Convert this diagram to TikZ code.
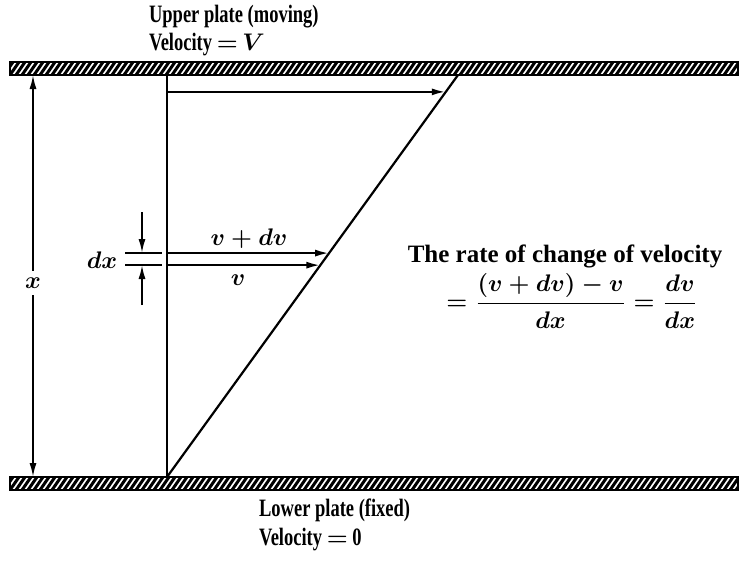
\documentclass[tikz,border=0pt]{standalone}
\usepackage{fontspec}
\usepackage{amsmath}
\setmainfont{Liberation Serif}
\newfontfamily\platefont[FakeStretch=0.74]{Liberation Serif}
\usetikzlibrary{arrows.meta, calc}

\tikzset{
  platelab/.style={inner sep=0pt, anchor=west,
    font=\platefont\fontsize{12.5}{15}\selectfont\bfseries\boldmath},
  mathlab/.style={inner sep=1pt, font=\fontsize{12}{14}\selectfont\bfseries\boldmath},
  ratelab/.style={inner sep=0pt, font=\fontsize{12.5}{15}\selectfont\bfseries\boldmath}
}

\begin{document}
\begin{tikzpicture}[x=0.5pt, y=-0.5pt, line width=1.1pt, >={Latex[length=7pt, width=3.5pt]}]
\useasboundingbox (0,0) rectangle (742,564);

% Plates (hatched bands)
\foreach \ytop/\ybot in {62/75, 477/490} {
  \begin{scope}
    \clip (10,\ytop) rectangle (738,\ybot);
    \foreach \i in {-3,...,125} {
      \draw[line width=1.5pt] (\i*6+4,\ybot) -- ++(9,-13);
    }
  \end{scope}
  \draw[line width=1.3pt] (10,\ytop) rectangle (738,\ybot);
}

% Plate labels
\node[platelab] (upper) at (148,17) {Upper plate (moving)};
\node[platelab] (uvel) at (148,45) {Velocity $=$ $V$};
\node[platelab] (lower) at (258,510) {Lower plate (fixed)};
\node[platelab] (lvel) at (258,540) {Velocity $=$ 0};

% Velocity profile
\coordinate (base) at (167,477);
\coordinate (top) at (167,75);
\coordinate (tip) at (458,75);
\draw (top) -- (base);
\draw (base) -- (tip);

% Velocity arrows (ending on the profile)
\coordinate (vV) at ($(base)!0.958!(tip)$);
\coordinate (vdv) at ($(base)!0.557!(tip)$);
\coordinate (vv) at ($(base)!0.527!(tip)$);
\draw[->] (vV -| base) -- (vV);
\draw[->] (vdv -| base) -- (vdv);
\draw[->] (vv -| base) -- (vv);
\node[mathlab] (vdvlab) at (249,239) {$v + dv$};
\node[mathlab] (vlab) at (238,280) {$v$};

% dx marker
\coordinate (dxa) at (125,253);
\coordinate (dxb) at (125,265);
\draw[line width=0.9pt] (dxa) -- (dxa -| 162,0);
\draw[line width=0.9pt] (dxb) -- (dxb -| 162,0);
\coordinate (dxu) at (142,212);
\coordinate (dxd) at (142,305);
\draw[line width=0.9pt, ->] (dxu) -- (dxu |- dxa);
\draw[line width=0.9pt, ->] (dxd) -- (dxd |- dxb);
\node[mathlab] (dxlab) at (102,260) {$dx$};

% x dimension
\coordinate (xtop) at (33,75);
\coordinate (xbot) at (33,477);
\node[mathlab, inner sep=3pt] (xlab) at (33,283) {$x$};
\draw[line width=0.9pt, ->] (xlab.north) -- (xtop);
\draw[line width=0.9pt, ->] (xlab.south) -- (xbot);

% Rate of change
\node[ratelab] (rate) at (565,256) {The rate of change of velocity};
\node[mathlab, inner sep=0pt] (formula) at (572,301)
  {$= \dfrac{(v + dv) - v}{dx} = \dfrac{dv}{dx}$};

\end{tikzpicture}
\end{document}
